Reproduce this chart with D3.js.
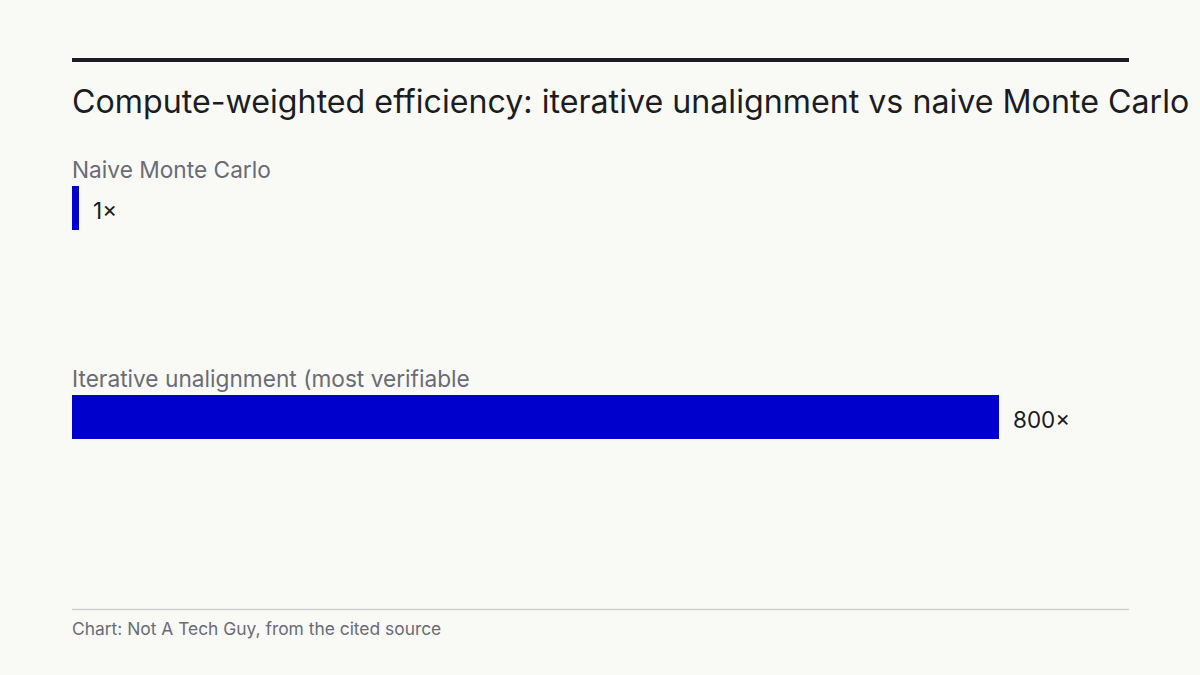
<!DOCTYPE html>
<html>
<head>
<meta charset="utf-8">
<script src="https://cdn.jsdelivr.net/npm/d3@7"></script>
<style>
  body { margin: 0; background: #f9faf6; }
  text { font-family: Inter, "Noto Sans", sans-serif; }
</style>
</head>
<body>
<div id="app"></div>
<script>
const categories = ["Naive Monte Carlo", "Iterative unalignment (most verifiable"];
const values = [1, 800];
const valueLabels = ["1×", "800×"];

const width = 1200, height = 675;
const svg = d3.select("#app").append("svg")
  .attr("width", width).attr("height", height);

svg.append("rect").attr("x", 72).attr("y", 58).attr("width", 1057).attr("height", 4).attr("fill", "#1c1c22");

svg.append("text").attr("x", 72).attr("y", 113)
  .attr("font-size", 32.2).attr("fill", "#1c1c22")
  .text("Compute-weighted efficiency: iterative unalignment vs naive Monte Carlo");

const x = d3.scaleLinear().domain([0, 800]).range([0, 927]);
const y = d3.scaleBand().domain(categories).range([160, 578]).paddingInner(0).paddingOuter(0);

const g = svg.append("g").attr("transform", "translate(72,0)");
const rows = g.selectAll("g.row").data(categories).join("g")
  .attr("transform", d => `translate(0,${y(d)})`);

rows.append("text").attr("y", 18).attr("font-size", 22.7).attr("fill", "#6b6b76").text(d => d);
rows.append("rect").attr("y", 26).attr("height", 44)
  .attr("width", (d, i) => Math.max(7, x(values[i])))
  .attr("fill", "#0000cc");
rows.append("text")
  .attr("x", (d, i) => Math.max(7, x(values[i])) + 14)
  .attr("y", 59).attr("font-size", 22.5).attr("fill", "#1c1c22")
  .text((d, i) => valueLabels[i]);

svg.append("line").attr("x1", 72).attr("x2", 1129).attr("y1", 609.5).attr("y2", 609.5)
  .attr("stroke", "#d0d0d0").attr("stroke-width", 1.5);
svg.append("text").attr("x", 72).attr("y", 635).attr("font-size", 17.4).attr("fill", "#6b6b76")
  .text("Chart: Not A Tech Guy, from the cited source");
</script>
</body>
</html>
